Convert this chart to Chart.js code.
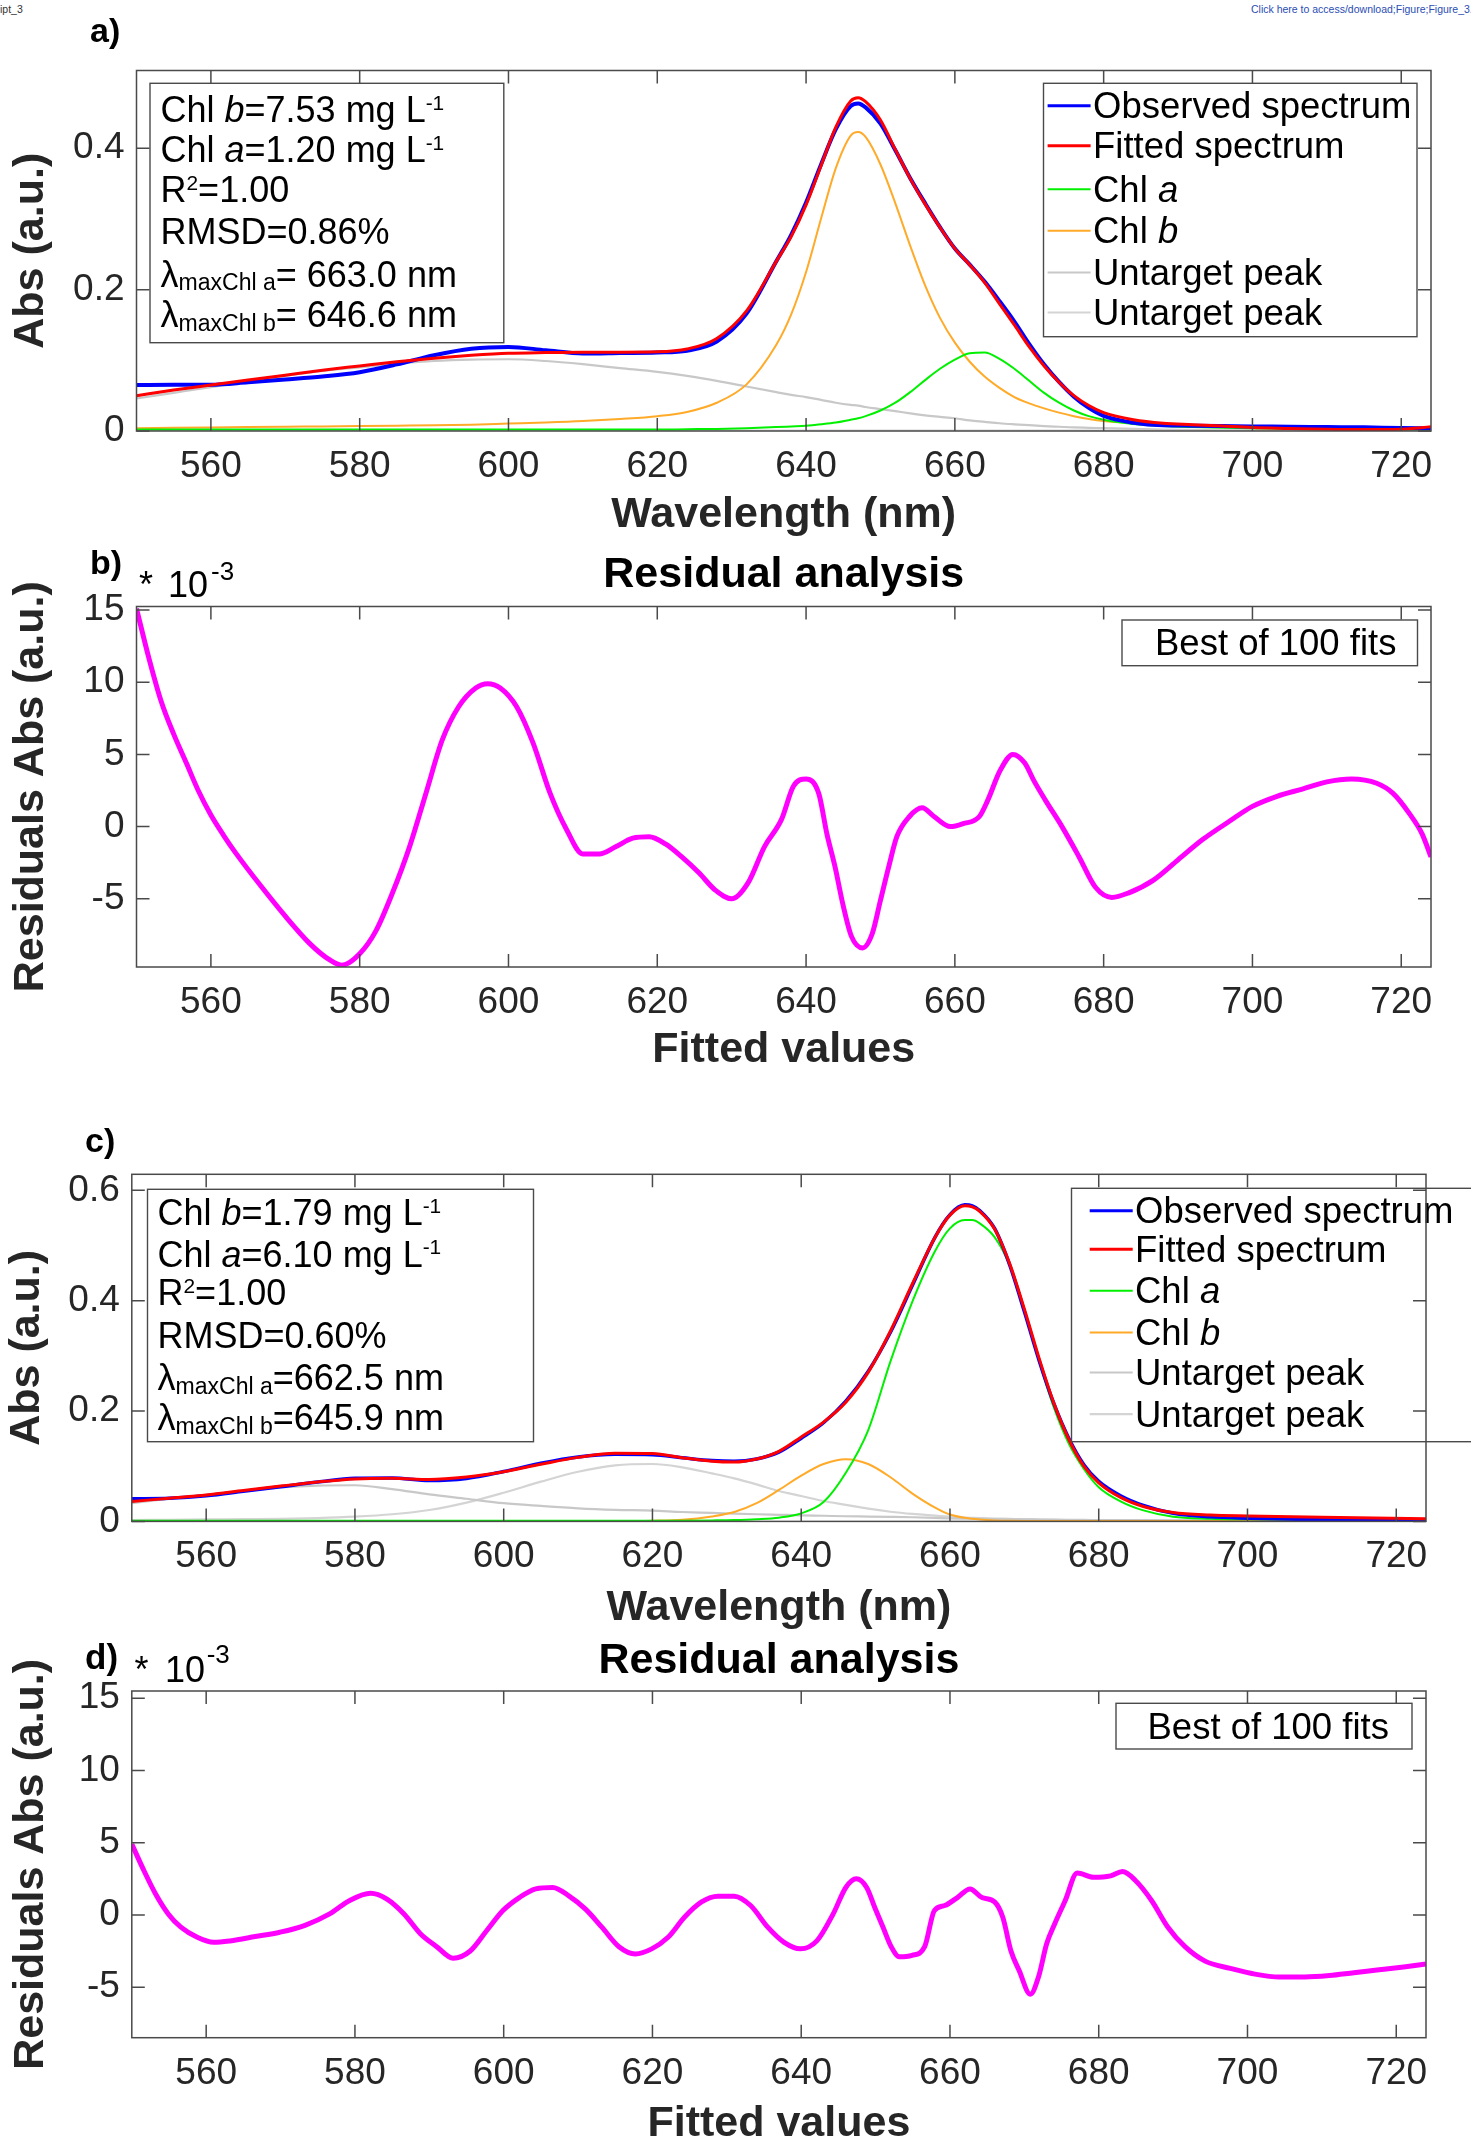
<!DOCTYPE html>
<html>
<head>
<meta charset="utf-8">
<script src="https://cdn.jsdelivr.net/npm/chart.js@4.4.1/dist/chart.umd.min.js"></script>
<style>
  html, body { margin: 0; padding: 0; background: #fff; overflow: hidden; }
  body { position: relative; width: 1471px; height: 2139px; }
  canvas { position: absolute; left: 0; }
  .tiny { position: absolute; font: 10.5px 'Liberation Sans', Arial, sans-serif; white-space: nowrap; }
</style>
</head>
<body>
<div class="tiny" style="left:0;top:3px;color:#333">ipt_3</div>
<div class="tiny" style="left:1251px;top:3px;color:#2a4db3">Click here to access/download;Figure;Figure_3.</div>
<canvas id="chartA" width="1471" height="540" style="top:0"></canvas>
<canvas id="chartB" width="1471" height="540" style="top:540px"></canvas>
<canvas id="chartC" width="1471" height="552" style="top:1080px"></canvas>
<canvas id="chartD" width="1471" height="520" style="top:1632px"></canvas>
<script>
const FONT = "'Liberation Sans', Arial, Helvetica, sans-serif";
const INK = '#262626';
const FRAME = '#4a4a4a';
Chart.defaults.font.family = FONT;
Chart.defaults.color = INK;

// ---- data ----
const xTicks = [560, 580, 600, 620, 640, 660, 680, 700, 720];
const absTicksA = [0, 0.2, 0.4];
const absTicksC = [0, 0.2, 0.4, 0.6];
const resTicks = [-5, 0, 5, 10, 15];
const seriesLabels = ['Observed spectrum', 'Fitted spectrum', 'Chl a', 'Chl b', 'Untarget peak', 'Untarget peak'];

// panel a (Abs, a.u.)
const aWl = [550,555,560,565,570,575,580,585,590,595,600,605,610,615,620,624,628,632,636,638,640,642,644,646,647,648,650,652,654,656,658,660,662,664,666,668,670,672,674,676,678,680,684,688,692,696,700,705,710,715,720,724];
const aObs = [.0651,.0653,.0654,.0688,.0728,.0771,.0832,.0942,.1072,.1164,.1190,.1142,.1096,.1103,.1111,.1136,.1265,.1660,.2400,.2775,.3232,.3768,.4270,.4596,.4634,.4578,.4349,.3971,.3577,.3222,.2884,.2581,.2354,.2114,.1838,.1548,.1229,.0940,.0694,.0486,.0327,.0213,.0117,.0080,.0076,.0071,.0064,.0061,.0056,.0052,.0041,.0039];
const aFit = [.050,.058,.065,.072,.079,.086,.092,.098,.103,.107,.110,.111,.1115,.1115,.112,.116,.131,.170,.240,.275,.320,.375,.430,.467,.4716,.466,.440,.398,.357,.321,.288,.258,.235,.210,.180,.150,.119,.092,.069,.050,.036,.026,.016,.011,.009,.007,.005,.0037,.0025,.002,.0025,.006];
const aChlA = [.002,.002,.002,.002,.002,.002,.002,.002,.002,.002,.002,.002,.002,.002,.002,.0025,.003,.004,.0055,.0065,.0075,.0095,.012,.016,.018,.021,.029,.040,.055,.072,.088,.101,.110,.111,.102,.088,.071,.054,.040,.029,.021,.016,.010,.007,.0055,.0045,.004,.003,.0025,.002,.002,.002];
const aChlB = [.004,.0045,.005,.0055,.006,.0065,.007,.0075,.008,.009,.0105,.012,.014,.017,.021,.027,.040,.066,.122,.165,.225,.300,.372,.418,.423,.416,.377,.322,.262,.206,.160,.125,.098,.077,.061,.048,.039,.032,.026,.021,.017,.014,.011,.009,.008,.007,.006,.005,.0045,.004,.0035,.0035];
const aUnt1 = [.046,.054,.062,.070,.078,.085,.090,.095,.099,.101,.1015,.099,.0945,.089,.0837,.078,.071,.063,.055,.051,.048,.044,.040,.037,.036,.034,.031,.028,.025,.022,.020,.018,.015,.013,.011,.0095,.0082,.007,.006,.005,.0045,.004,.003,.002,.0015,.001,.0008,.0006,.0005,.0005,.0005,.0005];
const aUnt2 = [.0012,.0012,.0011,.0011,.001,.001,.001,.0009,.0009,.0008,.0008,.0007,.0007,.0006,.0006,.0005,.0005,.0005,.0005,.0005,.0005,.0005,.0005,.0005,.0005,.0005,.0005,.0005,.0005,.0005,.0005,.0005,.0005,.0005,.0005,.0005,.0005,.0005,.0005,.0005,.0005,.0005,.0005,.0005,.0005,.0005,.0005,.0005,.0005,.0005,.0005,.0005];

// panel b (residuals, x 10^-3)
const bWl = [550,551.7,553.3,555,556.7,558.3,560,561.7,563.3,566.7,570,573.3,575.6,577.6,580,582.2,584.4,586.7,588.9,591.1,593.3,595.6,597.2,598.9,601.1,603.3,605.6,607.8,610,612.2,614.4,616.7,618.9,621.1,623.3,625.6,627.8,630,632.2,634.4,636.7,638.3,640,641.7,642.8,643.9,645,646.1,647.6,648.9,650,651.1,652.2,653.9,655.6,657.2,659.4,661.1,663.3,664.4,666.1,667.8,669.4,670.6,672.2,674.4,676.7,678.9,681.1,683.3,686.7,690,693.3,696.7,700,703.3,706.7,710,713.3,716.7,718.9,721.1,722.8,724];
const bRes = [15.1,11.6,8.7,6.4,4.4,2.5,0.8,-0.6,-1.8,-4.1,-6.2,-8.1,-9.1,-9.6,-8.8,-7.2,-4.6,-1.4,2.3,6.0,8.3,9.6,9.9,9.6,8.3,5.8,2.3,-0.2,-1.9,-1.9,-1.4,-0.8,-0.7,-1.2,-2.1,-3.2,-4.4,-5.0,-3.9,-1.4,0.5,2.8,3.3,2.3,-0.5,-2.8,-5.5,-7.6,-8.4,-7.4,-5.1,-2.8,-0.7,0.7,1.3,0.7,0,0.2,0.7,1.8,3.9,5.0,4.4,3.2,1.8,0,-2.1,-4.2,-4.9,-4.6,-3.7,-2.3,-0.9,0.3,1.4,2.1,2.6,3.1,3.3,3.0,2.3,0.9,-0.5,-2.1];

// panel c (Abs, a.u.)
const cWl = [550,555,560,565,570,575,580,585,590,595,600,605,610,615,620,624,628,631,634,637,640,643,646,649,652,655,658,660,662,663,664,666,668,670,672,674,676,678,680,683,686,690,695,700,710,724];
const cObs = [.0409,.0419,.0463,.0544,.0628,.0712,.0782,.0788,.0742,.0779,.0904,.1054,.1168,.1215,.1207,.1153,.1102,.1088,.1131,.1254,.1507,.1788,.2179,.2718,.3429,.4292,.5153,.5559,.5736,.5717,.5633,.5309,.4657,.3803,.2908,.2123,.1498,.1028,.0726,.0460,.0288,.0147,.0082,.0058,.0032,.0016];
const cFit = [.036,.042,.048,.056,.064,.0715,.077,.078,.076,.0805,.090,.1035,.116,.1235,.123,.1155,.109,.1075,.113,.127,.153,.180,.216,.270,.345,.432,.515,.555,.572,.570,.562,.530,.468,.385,.295,.213,.148,.100,.070,.043,.027,.016,.0115,.0098,.0074,.005];
const cChlA = [.001,.001,.001,.001,.001,.001,.001,.001,.001,.001,.001,.001,.001,.001,.001,.0012,.0018,.0025,.004,.0068,.0146,.035,.088,.165,.290,.400,.490,.531,.546,.546,.540,.515,.465,.385,.290,.205,.140,.095,.062,.036,.020,.0086,.005,.0037,.0025,.002];
const cChlB = [.0007,.0007,.0007,.0007,.0007,.0007,.0007,.0007,.0007,.0007,.0007,.0007,.0007,.0007,.0013,.003,.009,.017,.033,.057,.083,.104,.1128,.104,.080,.050,.025,.0125,.0065,.005,.0035,.0018,.001,.0007,.0007,.0007,.0007,.0007,.0007,.0007,.0007,.0007,.0007,.0007,.0007,.0007];
const cUnt1 = [.033,.041,.048,.055,.0617,.065,.0655,.0585,.049,.041,.033,.028,.0237,.021,.0195,.017,.0155,.0142,.013,.012,.011,.0102,.0093,.0088,.0082,.0075,.0065,.0055,.005,.0048,.0046,.0042,.0039,.0037,.0034,.0031,.0028,.0026,.0025,.0023,.0022,.0021,.002,.002,.0016,.0013];
const cUnt2 = [.0025,.003,.0035,.004,.0045,.006,.0086,.013,.0207,.034,.052,.072,.090,.1015,.104,.098,.087,.078,.067,.055,.046,.037,.030,.023,.0175,.0135,.0105,.0085,.007,.0065,.006,.0052,.0045,.0037,.0032,.0028,.0025,.0022,.002,.0018,.0016,.0015,.0014,.0013,.0013,.0013];

// panel d (residuals, x 10^-3)
const dWl = [550,551.6,553.2,554.9,556.6,558.8,561,563.2,566.6,569.9,573.2,576.6,579.3,582.1,584.3,586.6,588.8,591,593.2,595.5,597.7,599.9,602.1,604.3,606.6,608.8,611,613.2,615.5,617.7,619.9,622.1,624.3,626.6,628.8,631,633.2,635.5,637.7,639.9,642.1,644.3,646,647.4,648.8,649.9,651,652.1,653.2,654.9,656.6,657.9,659.3,661,662.7,664.3,666,667.1,668.2,669.3,670.8,671.9,673,674.1,675.5,677.1,679.3,681.6,683.2,684.9,687.1,689.3,691.6,694.3,697.7,701,704.3,707.7,711,714.3,717.7,721,724];
const dRes = [4.9,3.1,1.45,0.07,-0.85,-1.55,-1.9,-1.8,-1.5,-1.2,-0.74,0.07,1.0,1.5,1.1,0.07,-1.3,-2.2,-3.0,-2.5,-1.1,0.3,1.2,1.8,1.9,1.3,0.4,-0.85,-2.2,-2.7,-2.35,-1.55,-0.16,0.9,1.3,1.3,0.65,-0.85,-1.9,-2.35,-1.8,0.07,1.9,2.5,1.9,0.5,-0.85,-2.2,-2.9,-2.8,-2.2,0.3,0.65,1.2,1.8,1.2,0.9,-0.16,-2.5,-3.85,-5.5,-4.3,-2.0,-0.6,1.0,2.9,2.6,2.7,3.0,2.4,1.0,-0.85,-2.2,-3.2,-3.7,-4.1,-4.3,-4.3,-4.2,-4.0,-3.8,-3.6,-3.4];

// ---- styles ----
const seriesColors = ['#0000ff', '#ff0000', '#00f000', 'rgb(255,170,40)', 'rgb(200,200,200)', 'rgb(212,212,212)'];
const drawOrder = [1, 0, 2, 3, 4, 5];
const LEGEND_SIZE = 36.5;
const TITLE_SIZE = 43;

const pts = (xs, ys) => xs.map((x, i) => ({ x, y: ys[i] }));

function spectrumSets(wl, series, widths) {
  return series.map((ys, i) => ({
    label: seriesLabels[i],
    data: pts(wl, ys),
    borderColor: seriesColors[i],
    borderWidth: widths[i],
    pointRadius: 0,
    cubicInterpolationMode: 'monotone',
    order: drawOrder[i]
  }));
}

function residualSet(wl, ys) {
  return [{
    label: 'Best of 100 fits',
    data: pts(wl, ys),
    borderColor: '#ff00ff',
    borderWidth: 5,
    pointRadius: 0,
    cubicInterpolationMode: 'monotone'
  }];
}

// text with italic / super / subscript pieces
function rich(ctx, x, y, segs, size) {
  ctx.textBaseline = 'alphabetic';
  ctx.textAlign = 'left';
  ctx.fillStyle = '#000';
  for (const [txt, st] of segs) {
    let fs = size, dy = 0, pre = '';
    if (st === 'i') pre = 'italic ';
    if (st === 'sup') { fs = size * 0.58; dy = -size * 0.34; }
    if (st === 'sub') { fs = size * 0.64; dy = size * 0.1; }
    ctx.font = pre + fs + 'px ' + FONT;
    ctx.fillText(txt, x, y + dy);
    x += ctx.measureText(txt).width;
  }
}

function legendSegs(label) {
  const m = label.match(/^(Chl )([ab])$/);
  return m ? [[m[1]], [m[2], 'i']] : [[label]];
}

function boxRect(ctx, r) {
  ctx.fillStyle = '#fff';
  ctx.fillRect(r.x, r.y, r.w, r.h);
  ctx.strokeStyle = FRAME;
  ctx.lineWidth = 1.4;
  ctx.strokeRect(r.x, r.y, r.w, r.h);
}

function decor(spec) {
  return {
    id: 'decor',
    afterDatasetsDraw(chart) {
      const ctx = chart.ctx;
      ctx.save();
      if (spec.note) {
        boxRect(ctx, spec.note.box);
        spec.note.lines.forEach((segs, i) => rich(ctx, spec.note.x, spec.note.base[i], segs, 36));
      }
      if (spec.legend) {
        const lg = spec.legend;
        boxRect(ctx, lg.box);
        chart.data.datasets.forEach((ds, i) => {
          const yb = lg.base[i];
          if (lg.x1 != null) {
            ctx.strokeStyle = ds.borderColor;
            ctx.lineWidth = Math.min(ds.borderWidth, 3);
            ctx.beginPath();
            ctx.moveTo(lg.x1, yb - 12.5);
            ctx.lineTo(lg.x2, yb - 12.5);
            ctx.stroke();
          }
          rich(ctx, lg.tx, yb, legendSegs(ds.label), LEGEND_SIZE);
        });
      }
      ctx.restore();
    },
    afterDraw(chart) {
      const { ctx, chartArea: a, scales } = chart;
      const T = 13;
      ctx.save();
      ctx.strokeStyle = FRAME;
      ctx.lineWidth = 1.5;
      ctx.strokeRect(a.left, a.top, a.right - a.left, a.bottom - a.top);
      ctx.beginPath();
      scales.x.ticks.forEach(t => {
        const px = scales.x.getPixelForValue(t.value);
        ctx.moveTo(px, a.bottom); ctx.lineTo(px, a.bottom - T);
        ctx.moveTo(px, a.top); ctx.lineTo(px, a.top + T);
      });
      scales.y.ticks.forEach(t => {
        const py = scales.y.getPixelForValue(t.value);
        ctx.moveTo(a.left, py); ctx.lineTo(a.left + T, py);
        ctx.moveTo(a.right, py); ctx.lineTo(a.right - T, py);
      });
      ctx.stroke();
      (spec.labels || []).forEach(l => {
        ctx.fillStyle = '#000';
        ctx.textBaseline = 'alphabetic';
        ctx.textAlign = 'left';
        ctx.font = (l.bold ? 'bold ' : '') + l.size + 'px ' + FONT;
        ctx.fillText(l.text, l.x, l.y);
      });
      ctx.restore();
    }
  };
}

function makeChart(id, g) {
  const hasTitle = !!g.title;
  const half = TITLE_SIZE / 2;
  return new Chart(document.getElementById(id), {
    type: 'line',
    data: { datasets: g.datasets },
    options: {
      responsive: false,
      animation: false,
      layout: { padding: { left: 0, right: 1471 - g.R, top: hasTitle ? 0 : g.T, bottom: 0 } },
      plugins: {
        legend: { display: false },
        tooltip: { enabled: false },
        title: hasTitle ? {
          display: true, text: g.title, fullSize: false, color: '#000',
          font: { size: TITLE_SIZE, weight: 'bold', lineHeight: 1 },
          padding: { top: g.titleMid - half, bottom: g.T - (g.titleMid - half) - TITLE_SIZE }
        } : { display: false }
      },
      scales: {
        x: {
          type: 'linear', min: 550, max: 724,
          afterBuildTicks: s => { s.ticks = xTicks.map(v => ({ value: v })); },
          afterFit: s => { s.height = g.H - g.B; },
          grid: { display: false, drawTicks: false },
          border: { display: false },
          ticks: { padding: 13.5, color: INK, font: { size: 37 }, maxRotation: 0, autoSkip: false, callback: v => String(v) },
          title: { display: true, text: g.xTitle, color: INK, font: { size: TITLE_SIZE, weight: 'bold', lineHeight: 1 },
                   padding: { top: 0, bottom: g.H - g.xTitleMid - half } }
        },
        y: {
          type: 'linear', min: g.yMin, max: g.yMax,
          afterBuildTicks: s => { s.ticks = g.yTicks.map(v => ({ value: v })); },
          afterFit: s => { s.width = g.L; },
          grid: { display: false, drawTicks: false },
          border: { display: false },
          ticks: { padding: 12, color: INK, font: { size: 37 }, autoSkip: false, callback: v => String(v) },
          title: { display: true, text: g.yTitle, color: INK, font: { size: TITLE_SIZE, weight: 'bold', lineHeight: 1 },
                   padding: { top: g.yTitlePad, bottom: 0 } }
        }
      }
    },
    plugins: [decor(g.decor)]
  });
}

// panel a
makeChart('chartA', {
  H: 540, L: 136.5, R: 1431, T: 70.5, B: 431, xTitleMid: 515, yTitlePad: 10,
  yMin: 0, yMax: 0.51, yTicks: absTicksA,
  xTitle: 'Wavelength (nm)', yTitle: 'Abs (a.u.)',
  datasets: spectrumSets(aWl, [aObs, aFit, aChlA, aChlB, aUnt1, aUnt2], [4, 3, 2, 2, 2.2, 2.2]),
  decor: {
    note: {
      box: { x: 150, y: 83.3, w: 353.8, h: 259.4 }, x: 160.5,
      base: [122, 162, 202, 244, 286.5, 327],
      lines: [
        [['Chl '], ['b', 'i'], ['=7.53 mg L'], ['-1', 'sup']],
        [['Chl '], ['a', 'i'], ['=1.20 mg L'], ['-1', 'sup']],
        [['R'], ['2', 'sup'], ['=1.00']],
        [['RMSD=0.86%']],
        [['λ'], ['maxChl a', 'sub'], ['= 663.0 nm']],
        [['λ'], ['maxChl b', 'sub'], ['= 646.6 nm']]
      ]
    },
    legend: {
      box: { x: 1043.5, y: 83.3, w: 373.5, h: 253.4 }, x1: 1047.6, x2: 1090.6, tx: 1093,
      base: [118.3, 158.3, 201.7, 243.3, 285, 325]
    },
    labels: [{ text: 'a)', x: 90, y: 42, size: 34, bold: true }]
  }
});

// panel b
makeChart('chartB', {
  H: 540, L: 136.5, R: 1431, T: 66.5, B: 427, xTitleMid: 510.5, yTitlePad: 10,
  title: 'Residual analysis', titleMid: 35,
  yMin: -9.72, yMax: 15.24, yTicks: resTicks,
  xTitle: 'Fitted values', yTitle: 'Residuals Abs (a.u.)',
  datasets: residualSet(bWl, bRes),
  decor: {
    legend: { box: { x: 1122, y: 80, w: 295.5, h: 45.7 }, tx: 1155, base: [115] },
    labels: [
      { text: 'b)', x: 90, y: 34.4, size: 34, bold: true },
      { text: '*', x: 139, y: 57, size: 36 },
      { text: '10', x: 168, y: 57, size: 36 },
      { text: '-3', x: 211, y: 39.6, size: 26 }
    ]
  }
});

// panel c
makeChart('chartC', {
  H: 552, L: 131.8, R: 1426, T: 94.3, B: 441.4, xTitleMid: 528, yTitlePad: 6,
  yMin: 0, yMax: 0.629, yTicks: absTicksC,
  xTitle: 'Wavelength (nm)', yTitle: 'Abs (a.u.)',
  datasets: spectrumSets(cWl, [cObs, cFit, cChlA, cChlB, cUnt1, cUnt2], [3.5, 3, 2, 2, 2.2, 2.2]),
  decor: {
    note: {
      box: { x: 147.5, y: 109.3, w: 386, h: 252.4 }, x: 157.5,
      base: [145, 186.7, 225, 268.3, 310, 350],
      lines: [
        [['Chl '], ['b', 'i'], ['=1.79 mg L'], ['-1', 'sup']],
        [['Chl '], ['a', 'i'], ['=6.10 mg L'], ['-1', 'sup']],
        [['R'], ['2', 'sup'], ['=1.00']],
        [['RMSD=0.60%']],
        [['λ'], ['maxChl a', 'sub'], ['=662.5 nm']],
        [['λ'], ['maxChl b', 'sub'], ['=645.9 nm']]
      ]
    },
    legend: {
      box: { x: 1071.5, y: 108.3, w: 420, h: 253.4 }, x1: 1089.7, x2: 1132.7, tx: 1135,
      base: [143.3, 181.7, 223.3, 265, 305, 346.7]
    },
    labels: [{ text: 'c)', x: 85, y: 71.8, size: 34, bold: true }]
  }
});

// panel d
makeChart('chartD', {
  H: 520, L: 131.8, R: 1426, T: 59, B: 405.7, xTitleMid: 492, yTitlePad: 10,
  title: 'Residual analysis', titleMid: 29,
  yMin: -8.5, yMax: 15.5, yTicks: resTicks,
  xTitle: 'Fitted values', yTitle: 'Residuals Abs (a.u.)',
  datasets: residualSet(dWl, dRes),
  decor: {
    legend: { box: { x: 1116, y: 71.3, w: 296, h: 45.7 }, tx: 1147.5, base: [107] },
    labels: [
      { text: 'd)', x: 85, y: 37, size: 35, bold: true },
      { text: '*', x: 134.5, y: 49.7, size: 36 },
      { text: '10', x: 165, y: 49.7, size: 36 },
      { text: '-3', x: 206.7, y: 31, size: 26 }
    ]
  }
});
</script>
</body>
</html>
